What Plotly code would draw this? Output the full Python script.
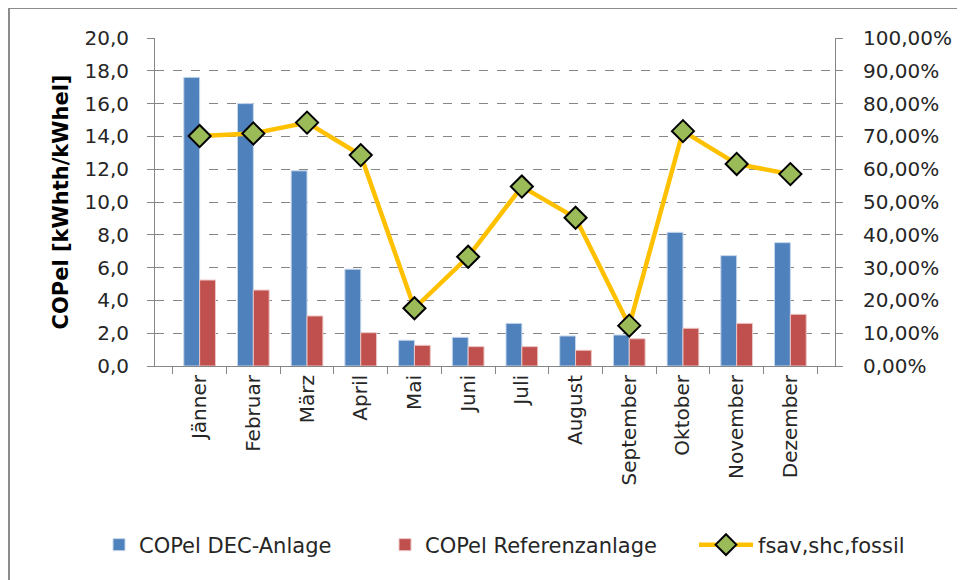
import plotly.graph_objects as go

months = ["Jänner", "Februar", "März", "April", "Mai", "Juni", "Juli",
          "August", "September", "Oktober", "November", "Dezember"]
cop_dec = [17.6, 16.0, 11.9, 5.9, 1.57, 1.75, 2.6, 1.83, 1.89, 8.15, 6.73, 7.52]
cop_ref = [5.24, 4.63, 3.05, 2.03, 1.26, 1.18, 1.18, 0.96, 1.66, 2.3, 2.6, 3.15]
fsav = [0.701, 0.709, 0.742, 0.643, 0.176, 0.333, 0.547, 0.452, 0.123, 0.716, 0.616, 0.585]

FONT = "DejaVu Sans"
FS = 20
TXT = "#262626"
fig = go.Figure()
fig.add_trace(go.Bar(x=months, y=cop_dec, name="COPel DEC-Anlage", legend="legend",
                     marker=dict(color="#4F81BD", line=dict(color="#C6D6EA", width=1))))
fig.add_trace(go.Bar(x=months, y=cop_ref, name="COPel Referenzanlage", legend="legend2",
                     marker=dict(color="#C0504D", line=dict(color="#EBC5C4", width=1))))
fig.add_trace(go.Scatter(x=months, y=fsav, name="fsav,shc,fossil", yaxis="y2",
                         legend="legend3", mode="lines+markers",
                         line=dict(color="#FFC000", width=4.5),
                         marker=dict(symbol="diamond", size=17, color="#9BBB59",
                                     line=dict(color="black", width=2))))

# page has an 8px body margin; figure coords = page coords - 8
OFF = 8
FW, FH = 965 - OFF, 580 - OFF
L, R, T, B = 155 - OFF, 835 - OFF, 38 - OFF, 366 - OFF
W, H = R - L, B - T


def leg(xpage, iw=30):
    return dict(orientation="h", xref="container", x=(xpage - OFF) / FW, xanchor="left",
                yref="container", y=(580 - 545) / FH, yanchor="middle",
                font=dict(family=FONT, size=21, color=TXT), itemwidth=iw,
                bgcolor="rgba(0,0,0,0)")


fig.update_layout(
    width=FW, height=FH,
    margin=dict(l=L, r=FW - R, t=T, b=FH - B),
    paper_bgcolor="white", plot_bgcolor="white",
    separators=",.",
    font=dict(family=FONT, size=FS, color=TXT),
    barmode="group", bargap=0.41, bargroupgap=0,
    showlegend=True,
    legend=leg(99), legend2=leg(385), legend3=leg(694, 54),
    xaxis=dict(type="category", tickson="boundaries", ticks="outside", ticklen=7,
               tickcolor="#868686", showline=True, linecolor="#868686", linewidth=1,
               tickangle=-90, showgrid=False, automargin=False,
               tickfont=dict(family=FONT, size=FS, color=TXT)),
    yaxis=dict(range=[0, 20], dtick=2, tickformat=".1f", ticks="outside", ticklen=7,
               tickcolor="#868686", showline=True, linecolor="#868686", linewidth=1,
               showgrid=True, gridcolor="#868686", griddash="dash", gridwidth=1,
               zeroline=False, automargin=False, ticklabelstandoff=14,
               title=dict(text="<b>COPel [kWhth/kWhel]</b>", standoff=10,
                          font=dict(family=FONT, size=21, color="black")),
               tickfont=dict(family=FONT, size=FS, color=TXT)),
    yaxis2=dict(range=[0, 1], dtick=0.1, tickformat=".2%", overlaying="y", side="right",
                ticks="outside", ticklen=7, tickcolor="#868686", showline=True,
                linecolor="#868686", linewidth=1, showgrid=False, zeroline=False,
                automargin=False, ticklabelstandoff=16,
                tickfont=dict(family=FONT, size=FS, color=TXT)),
    shapes=[dict(type="rect", xref="paper", yref="paper",
                 x0=(9 - 155) / W, x1=(990 - 155) / W,
                 y0=(366 - 600) / H, y1=(366 - 8) / H,
                 line=dict(color="#8C8C8C", width=2), fillcolor="rgba(0,0,0,0)",
                 layer="below")],
)
fig.write_html("out.html")
